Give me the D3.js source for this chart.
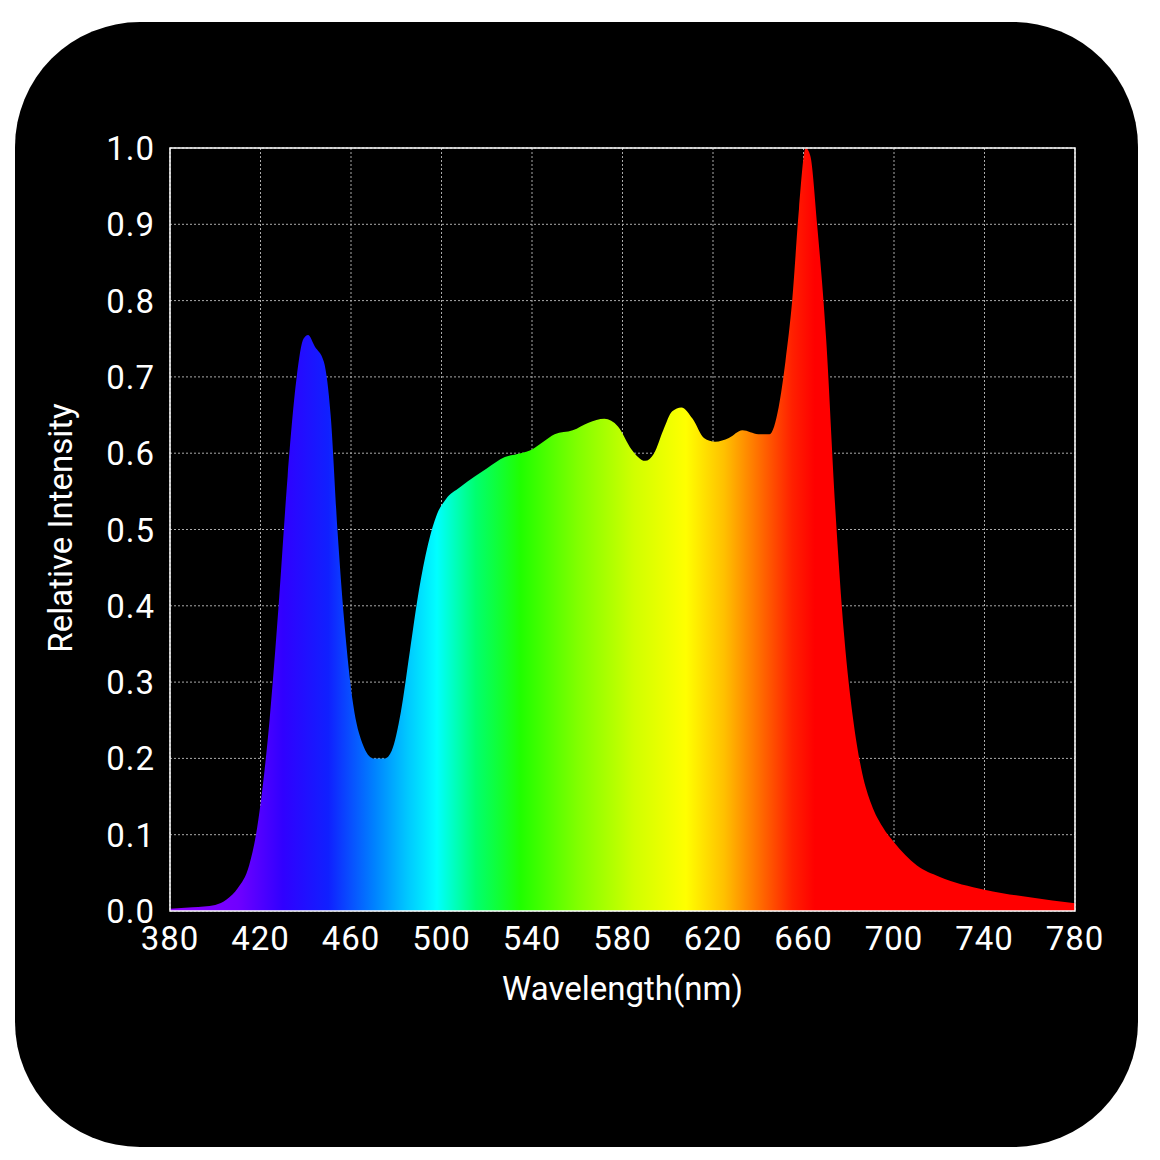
<!DOCTYPE html><html><head><meta charset="utf-8">
<script src="https://cdn.jsdelivr.net/npm/d3@7"></script>
<style>body{margin:0;background:#fff}</style></head><body>
<svg id="c" width="1160" height="1160"></svg>
<script>
const wavelengths=[380,390,400,405,410,415,418,420,424,428,432,436,439,441,444,448,451,454,457,461,465,470,475,478,482,486,490,494,498,502,508,515,520,528,535,540,545,550,558,565,572,578,584,590,594,598,602,606,611,616,621,627,633,640,645,649,652,655,658,661,663,666,670,674,678,682,686,690,695,700,710,720,740,760,780];
const intensity=[0.003,0.005,0.008,0.015,0.03,0.06,0.1,0.14,0.25,0.4,0.57,0.7,0.75,0.755,0.74,0.72,0.65,0.5,0.38,0.27,0.22,0.2,0.2,0.21,0.26,0.34,0.42,0.48,0.52,0.54,0.555,0.57,0.58,0.595,0.6,0.605,0.615,0.625,0.63,0.64,0.645,0.635,0.605,0.59,0.6,0.63,0.655,0.66,0.645,0.62,0.615,0.62,0.63,0.625,0.625,0.66,0.72,0.8,0.92,1.0,0.99,0.9,0.75,0.53,0.36,0.25,0.18,0.14,0.11,0.09,0.06,0.045,0.028,0.018,0.01];
const xTicks=[380,420,460,500,540,580,620,660,700,740,780];
const yTicks=[0,0.1,0.2,0.3,0.4,0.5,0.6,0.7,0.8,0.9,1.0];
const stopNm=[380,410,430,450,470,485,498,515,535,560,585,608,625,640,655,665,780];
const stopCol=["#9000ff","#7000ff","#3000ff","#1020ff","#0080ff","#00c8ff","#00ffff","#00ff70","#20ff00","#80ff00","#d0ff00","#ffff00","#ffc000","#ff7000","#ff2000","#ff0000","#ff0000"];

const svg=d3.select("#c");
svg.append("rect").attr("x",15).attr("y",22).attr("width",1123).attr("height",1125).attr("rx",125).attr("fill","#000");
const L=170,R=1075,T=148,B=911;
const x=d3.scaleLinear().domain([380,780]).range([L,R]);
const y=d3.scaleLinear().domain([0,1]).range([B,T]);
const g=svg.append("g");
// grid
g.selectAll(".vg").data(xTicks).enter().append("line").attr("x1",d=>x(d)).attr("x2",d=>x(d)).attr("y1",T).attr("y2",B).attr("stroke","#aaa").attr("stroke-width",1).attr("stroke-dasharray","2,2");
g.selectAll(".hg").data(yTicks).enter().append("line").attr("x1",L).attr("x2",R).attr("y1",d=>y(d)).attr("y2",d=>y(d)).attr("stroke","#aaa").attr("stroke-width",1).attr("stroke-dasharray","2,2");
// gradient
const grad=svg.append("defs").append("linearGradient").attr("id","sp").attr("gradientUnits","userSpaceOnUse").attr("x1",x(380)).attr("x2",x(780)).attr("y1",0).attr("y2",0);
stopNm.forEach((n,i)=>grad.append("stop").attr("offset",(n-380)/400).attr("stop-color",stopCol[i]));
const area=d3.area().x((d,i)=>x(wavelengths[i])).y0(B).y1(d=>y(d)).curve(d3.curveMonotoneX);
g.append("path").datum(intensity).attr("d",area).attr("fill","url(#sp)");
// frame
g.append("rect").attr("x",L).attr("y",T).attr("width",R-L).attr("height",B-T).attr("fill","none").attr("stroke","#fff").attr("stroke-width",1.5);
const font="Roboto, sans-serif";
g.selectAll(".xt").data(xTicks).enter().append("text").attr("x",d=>x(d)).attr("y",950).attr("text-anchor","middle").attr("fill","#fff").attr("font-family",font).attr("font-size",33).attr("letter-spacing",1).text(d=>d);
g.selectAll(".yt").data(yTicks).enter().append("text").attr("x",155).attr("y",d=>y(d)+12).attr("text-anchor","end").attr("fill","#fff").attr("font-family",font).attr("font-size",33).attr("letter-spacing",1).text(d=>d.toFixed(1));
svg.append("text").attr("x",x(580)).attr("y",1000).attr("text-anchor","middle").attr("fill","#fff").attr("font-family",font).attr("font-size",33).text("Wavelength(nm)");
svg.append("text").attr("transform","translate(72,528) rotate(-90)").attr("text-anchor","middle").attr("fill","#fff").attr("font-family",font).attr("font-size",33).text("Relative Intensity");
</script></body></html>
